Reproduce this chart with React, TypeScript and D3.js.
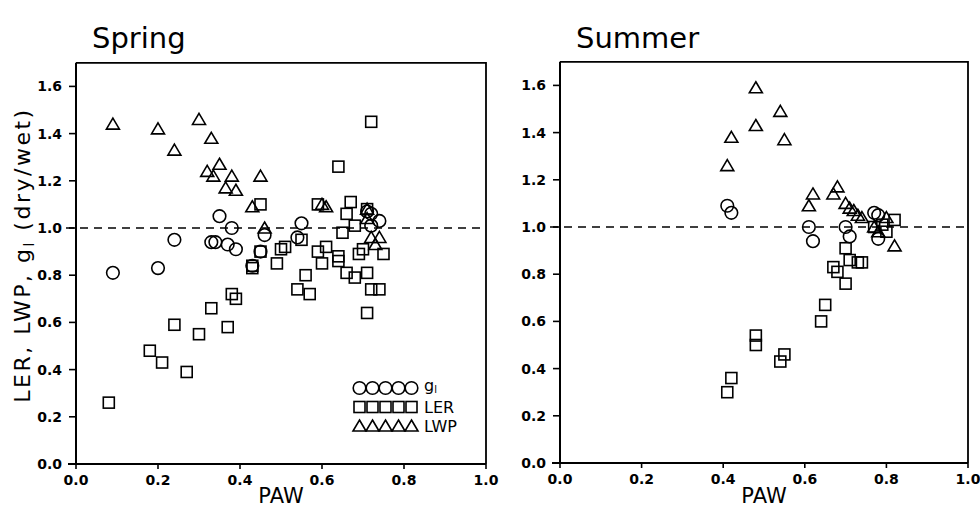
import React from "react";
import * as d3 from "d3";

// axis ticks
const xTicks = [0, 0.2, 0.4, 0.6, 0.8, 1.0];
const yTicks = [0, 0.2, 0.4, 0.6, 0.8, 1.0, 1.2, 1.4, 1.6];

// Spring: [PAW, ratio]
const springGl: [number, number][] = [
  [0.09, 0.81], [0.2, 0.83], [0.24, 0.95], [0.33, 0.94], [0.34, 0.94], [0.35, 1.05],
  [0.37, 0.93], [0.38, 1.0], [0.39, 0.91], [0.43, 0.84], [0.45, 0.9], [0.46, 0.97],
  [0.54, 0.96], [0.55, 1.02], [0.71, 1.07], [0.72, 1.06], [0.72, 1.01], [0.74, 1.03],
];
const springLer: [number, number][] = [
  [0.08, 0.26], [0.18, 0.48], [0.21, 0.43], [0.27, 0.39], [0.24, 0.59], [0.3, 0.55],
  [0.33, 0.66], [0.37, 0.58], [0.38, 0.72], [0.39, 0.7], [0.43, 0.84], [0.43, 0.83],
  [0.45, 1.1], [0.45, 0.9], [0.49, 0.85], [0.5, 0.91], [0.51, 0.92], [0.54, 0.74],
  [0.55, 0.95], [0.56, 0.8], [0.57, 0.72], [0.59, 1.1], [0.59, 0.9], [0.6, 0.85],
  [0.61, 0.92], [0.64, 1.26], [0.64, 0.88], [0.64, 0.86], [0.66, 1.06], [0.65, 0.98],
  [0.66, 0.81], [0.67, 1.11], [0.68, 1.01], [0.68, 0.79], [0.69, 0.89], [0.7, 0.91],
  [0.71, 1.08], [0.71, 0.81], [0.71, 0.64], [0.72, 1.45], [0.72, 0.74], [0.74, 0.74],
  [0.75, 0.89],
];
const springLwp: [number, number][] = [
  [0.09, 1.44], [0.2, 1.42], [0.24, 1.33], [0.3, 1.46], [0.33, 1.38], [0.35, 1.27],
  [0.32, 1.24], [0.335, 1.22], [0.38, 1.22], [0.365, 1.17], [0.39, 1.16], [0.45, 1.22],
  [0.43, 1.09], [0.46, 1.0], [0.6, 1.1], [0.61, 1.09], [0.71, 1.08], [0.71, 1.04],
  [0.72, 0.96], [0.74, 0.96], [0.73, 0.93],
];

// Summer
const summerGl: [number, number][] = [
  [0.41, 1.09], [0.42, 1.06], [0.61, 1.0], [0.62, 0.94], [0.7, 1.0], [0.71, 0.96],
  [0.77, 1.06], [0.78, 1.05], [0.78, 0.95],
];
const summerLer: [number, number][] = [
  [0.41, 0.3], [0.42, 0.36], [0.48, 0.54], [0.48, 0.5], [0.54, 0.43], [0.55, 0.46],
  [0.64, 0.6], [0.65, 0.67], [0.67, 0.83], [0.68, 0.81], [0.7, 0.76], [0.7, 0.91],
  [0.71, 0.86], [0.73, 0.85], [0.74, 0.85], [0.77, 1.0], [0.79, 1.01], [0.8, 0.98],
  [0.82, 1.03],
];
const summerLwp: [number, number][] = [
  [0.41, 1.26], [0.42, 1.38], [0.48, 1.59], [0.48, 1.43], [0.54, 1.49], [0.55, 1.37],
  [0.61, 1.09], [0.62, 1.14], [0.67, 1.14], [0.68, 1.17], [0.7, 1.1], [0.71, 1.08],
  [0.72, 1.07], [0.73, 1.05], [0.74, 1.04], [0.77, 1.0], [0.78, 0.98], [0.8, 1.04],
  [0.82, 0.92],
];

const legendItems = ["gl", "LER", "LWP"];

const font = "'DejaVu Sans', sans-serif";
const SW = 1.6;

const triPath = "M0,-6L6.5,5L-6.5,5Z";

function Marker({ kind, x, y }: { kind: string; x: number; y: number }) {
  if (kind === "gl")
    return <circle cx={x} cy={y} r={6.3} fill="none" stroke="#000" strokeWidth={SW} />;
  if (kind === "LER")
    return <rect x={x - 5.5} y={y - 5.5} width={11} height={11} fill="none" stroke="#000" strokeWidth={SW} />;
  return <path d={triPath} transform={`translate(${x},${y})`} fill="none" stroke="#000" strokeWidth={SW} />;
}

function Panel({
  title, x0, x1, y0, gl, ler, lwp, showLegend,
}: {
  title: string; x0: number; x1: number; y0: number;
  gl: [number, number][]; ler: [number, number][]; lwp: [number, number][];
  showLegend: boolean;
}) {
  const x = d3.scaleLinear().domain([0, 1]).range([x0, x1]);
  const y = d3.scaleLinear().domain([0, 1.7]).range([y0, y0 - 1.7 * 236]);
  const top = y(1.7);
  return (
    <g>
      <text x={x0 + 16} y={48} fontFamily={font} fontSize={29} fill="#000">{title}</text>
      {/* frame */}
      <path d={`M${x0},${top}H${x1}V${y0}`} fill="none" stroke="#000" strokeWidth={1.8} />
      <line x1={x0} x2={x0} y1={top} y2={y0} stroke="#000" strokeWidth={2} />
      <line x1={x0 - 8} x2={x1} y1={y0} y2={y0} stroke="#000" strokeWidth={2} />
      {yTicks.map((t) => (
        <g key={t}>
          <line x1={x0 - 7} x2={x0} y1={y(t)} y2={y(t)} stroke="#000" strokeWidth={1.6} />
          <text x={x0 - 14} y={y(t) + 5} textAnchor="end" fontFamily={font} fontWeight="bold" fontSize={14} fill="#000">
            {t.toFixed(1)}
          </text>
        </g>
      ))}
      {xTicks.map((t) => (
        <g key={t}>
          <line x1={x(t)} x2={x(t)} y1={y0} y2={y0 + 5} stroke="#000" strokeWidth={1.6} />
          <text x={x(t)} y={y0 + 21} textAnchor="middle" fontFamily={font} fontWeight="bold" fontSize={14} fill="#000">
            {t.toFixed(1)}
          </text>
        </g>
      ))}
      <text x={(x0 + x1) / 2} y={503} textAnchor="middle" fontFamily={font} fontSize={21} fill="#000">PAW</text>
      <line x1={x0 - 10} x2={x1} y1={y(1)} y2={y(1)} stroke="#000" strokeWidth={1.6} strokeDasharray="8,6" />
      {lwp.map((d, i) => <Marker key={"t" + i} kind="LWP" x={x(d[0])} y={y(d[1])} />)}
      {ler.map((d, i) => <Marker key={"s" + i} kind="LER" x={x(d[0])} y={y(d[1])} />)}
      {gl.map((d, i) => <Marker key={"c" + i} kind="gl" x={x(d[0])} y={y(d[1])} />)}
      {showLegend &&
        legendItems.map((k, row) => {
          const ly = 388 + row * 19;
          return (
            <g key={k}>
              {d3.range(5).map((j) => (
                <Marker key={j} kind={k} x={359.5 + j * 13} y={ly} />
              ))}
              <text x={424} y={k === "gl" ? ly + 3 : ly + 6} fontFamily={font} fontSize={16} fill="#000">
                {k === "gl" ? (
                  <>
                    g<tspan fontSize={10} dy={2}>l</tspan>
                  </>
                ) : (
                  k
                )}
              </text>
            </g>
          );
        })}
    </g>
  );
}

export default function App() {
  return (
    <svg width={980} height={507} style={{ position: "absolute", left: 0, top: 0, background: "#fff" }}>
      <rect width={980} height={507} fill="#fff" />
      <text
        transform="translate(30,255) rotate(-90)"
        textAnchor="middle"
        fontFamily={font}
        fontSize={22}
        fill="#000"
        letterSpacing={2.5}
      >
        LER,   LWP,   g<tspan fontSize={14} dy={4}>l</tspan>
        <tspan dy={-4}>{"   (dry/wet)"}</tspan>
      </text>
      <Panel title="Spring" x0={76} x1={486} y0={464} gl={springGl} ler={springLer} lwp={springLwp} showLegend />
      <Panel title="Summer" x0={560} x1={968} y0={463} gl={summerGl} ler={summerLer} lwp={summerLwp} showLegend={false} />
    </svg>
  );
}
